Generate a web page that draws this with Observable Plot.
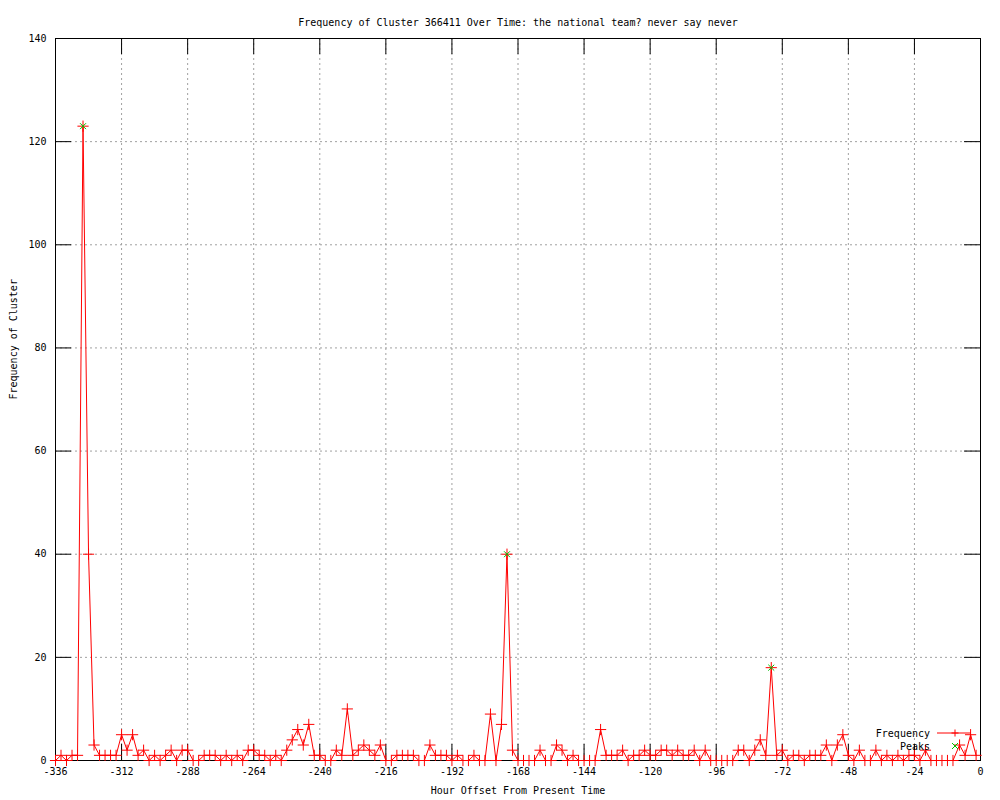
<!DOCTYPE html>
<html><head><meta charset="utf-8">
<script src="https://cdn.jsdelivr.net/npm/d3@7"></script>
<script src="https://cdn.jsdelivr.net/npm/@observablehq/plot@0.6"></script>
<style>body{margin:0;background:#fff}</style>
</head><body><div id="chart"></div>
<script>
const titleText = "Frequency of Cluster 366411 Over Time: the national team? never say never";
const xLabel = "Hour Offset From Present Time";
const yLabel = "Frequency of Cluster";
const hours = [-336,-334,-332,-330,-328,-326,-324,-322,-320,-318,-316,-314,-312,-310,-308,-306,-304,-302,-300,-298,-296,-294,-292,-290,-288,-286,-284,-282,-280,-278,-276,-274,-272,-270,-268,-266,-264,-262,-260,-258,-256,-254,-252,-250,-248,-246,-244,-242,-240,-238,-236,-234,-232,-230,-228,-226,-224,-222,-220,-218,-216,-214,-212,-210,-208,-206,-204,-202,-200,-198,-196,-194,-192,-190,-188,-186,-184,-182,-180,-178,-176,-174,-172,-170,-168,-166,-164,-162,-160,-158,-156,-154,-152,-150,-148,-146,-144,-142,-140,-138,-136,-134,-132,-130,-128,-126,-124,-122,-120,-118,-116,-114,-112,-110,-108,-106,-104,-102,-100,-98,-96,-94,-92,-90,-88,-86,-84,-82,-80,-78,-76,-74,-72,-70,-68,-66,-64,-62,-60,-58,-56,-54,-52,-50,-48,-46,-44,-42,-40,-38,-36,-34,-32,-30,-28,-26,-24,-22,-20,-18,-16,-14,-12,-10,-7.6,-5.6,-3.6,-1.6];
const frequency = [0,1,0,1,1,123,40,3,1,1,1,1,5,2,5,1,2,0,1,0,1,2,0,2,2,0,0,1,1,1,0,1,0,1,0,2,2,1,1,0,1,0,2,4,6,3,7,1,1,0,0,2,1,10,1,2,3,2,1,3,0,0,1,1,1,1,0,0,3,1,1,1,0,1,0,0,1,0,0,9,0,7,40,2,0,0,0,0,2,0,0,3,2,0,1,0,0,0,0,6,1,1,1,2,0,1,1,2,1,1,2,2,1,2,1,1,2,0,2,0,0,0,0,0,2,2,0,2,4,1,18,1,2,0,1,1,0,1,1,1,3,0,3,5,1,0,2,0,0,2,0,1,0,1,0,1,1,0,2,0,0,0,0,0,3,1,5,1];
const peakHours = [-326, -172, -76];
const peakValues = [123, 40, 18];
const xTicks = [-336,-312,-288,-264,-240,-216,-192,-168,-144,-120,-96,-72,-48,-24,0];
const yTicks = [0,20,40,60,80,100,120,140];
const legendLabels = ["Frequency", "Peaks"];

const data = hours.map((h, i) => ({h, v: frequency[i]}));
const peaks = peakHours.map((h, i) => ({h, v: peakValues[i]}));
const font = "'DejaVu Sans Mono', 'Liberation Mono', monospace";
const red = "#ff0000", green = "#00c000";

const legend = (index, scales, values, dims) => {
  const g = d3.create("svg:g").attr("font-family", font).attr("font-size", 10);
  const xr = dims.width - dims.marginRight;
  const yb = dims.height - dims.marginBottom;
  const rows = [{label: legendLabels[0], y: yb - 27, line: true}, {label: legendLabels[1], y: yb - 14, line: false}];
  for (const r of rows) {
    g.append("text").attr("x", xr - 50).attr("y", r.y).attr("dy", "0.35em").attr("text-anchor", "end").attr("fill", "black").text(r.label);
    const cx = xr - 25;
    if (r.line) {
      g.append("line").attr("x1", xr - 43).attr("x2", xr - 9).attr("y1", r.y).attr("y2", r.y).attr("stroke", red);
      g.append("path").attr("d", `M${cx-3.5},${r.y}h7M${cx},${r.y-3.5}v7`).attr("stroke", red).attr("fill", "none");
    } else {
      g.append("path").attr("d", `M${cx-3},${r.y-3}l6,6M${cx-3},${r.y+3}l6,-6`).attr("stroke", green).attr("fill", "none");
    }
  }
  return g.node();
};

const plot = Plot.plot({
  width: 1000, height: 800,
  marginLeft: 55, marginRight: 20, marginTop: 38, marginBottom: 40,
  style: {fontFamily: font, fontSize: "10px", background: "#fff", color: "black"},
  x: {domain: [-336, 0], label: null},
  y: {domain: [0, 140], label: null},
  marks: [
    Plot.gridX(xTicks, {stroke: "#a0a0a0", strokeOpacity: 1, strokeDasharray: "2,3"}),
    Plot.gridY(yTicks, {stroke: "#a0a0a0", strokeOpacity: 1, strokeDasharray: "2,3"}),
    Plot.ruleX(xTicks, {x: d => d, y1: 0, y2: 0, insetTop: -16, stroke: "black"}),
    Plot.ruleX(xTicks, {x: d => d, y1: 140, y2: 140, insetBottom: -16, stroke: "black"}),
    Plot.ruleY(yTicks, {y: d => d, x1: -336, x2: -336, insetRight: -16, stroke: "black"}),
    Plot.ruleY(yTicks, {y: d => d, x1: 0, x2: 0, insetLeft: -16, stroke: "black"}),
    Plot.axisX(xTicks, {tickSize: 0, tickPadding: 7, tickFormat: d => String(d), fontSize: 10}),
    Plot.axisY(yTicks, {tickSize: 0, tickPadding: 9, tickFormat: d => String(d), fontSize: 10}),
    Plot.frame({stroke: "black"}),
    Plot.line(data, {x: "h", y: "v", stroke: red, strokeWidth: 1}),
    Plot.dot(data, {x: "h", y: "v", symbol: "plus", stroke: red, r: 3.7, strokeWidth: 1}),
    Plot.dot(peaks, {x: "h", y: "v", symbol: "times", stroke: green, r: 2.8, strokeWidth: 1}),
    Plot.text([titleText], {frameAnchor: "top", dy: -20, text: d => d, fontSize: 10}),
    Plot.text([xLabel], {frameAnchor: "bottom", dy: 33, text: d => d, fontSize: 10}),
    Plot.text([yLabel], {frameAnchor: "left", dx: -42, rotate: -90, text: d => d, fontSize: 10}),
    legend
  ]
});
document.getElementById("chart").appendChild(plot);
</script>
</body></html>
